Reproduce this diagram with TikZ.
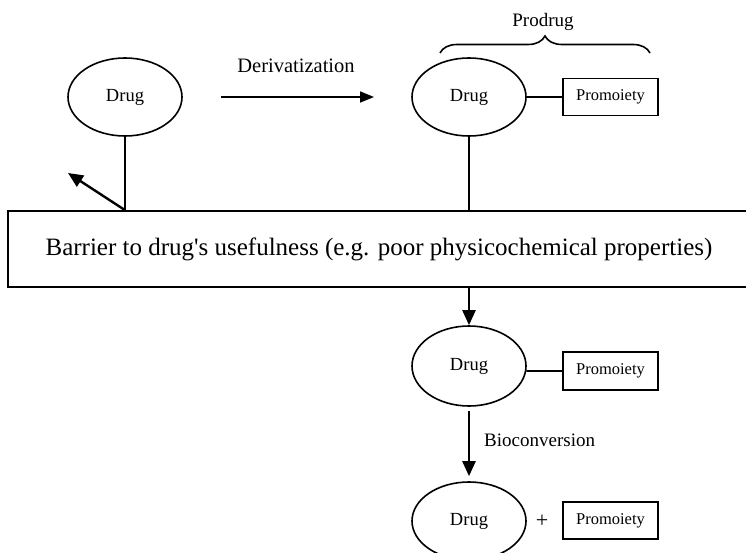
\documentclass[tikz,border=0pt]{standalone}
\usepackage{fontspec}
\setmainfont{Liberation Serif}
\usetikzlibrary{arrows.meta,shapes.geometric,decorations.pathreplacing}
\begin{document}
\begin{tikzpicture}[x=1pt,y=-1pt,
  drug/.style={draw,ellipse,line width=1.6pt,minimum width=114pt,minimum height=78pt,inner sep=0pt,font=\fontsize{18.5}{20}\selectfont},
  pbox/.style={draw,rectangle,line width=1.7pt,minimum width=95pt,minimum height=37pt,inner sep=0pt,font=\fontsize{16.5}{18}\selectfont},
  barbox/.style={draw,rectangle,line width=1.7pt,minimum width=742pt,minimum height=76pt,inner sep=0pt,font=\fontsize{25}{27}\selectfont},
  conn/.style={line width=1.7pt},
  vconn/.style={line width=2.4pt},
  bigarr/.style={line width=2.4pt,-{Triangle[length=15pt,width=13pt]}},
  thinarr/.style={line width=1.6pt,-{Triangle[length=14pt,width=11pt]}},
  lbl/.style={inner sep=0pt,font=\fontsize{19}{21}\selectfont}]
\useasboundingbox (0,0) rectangle (746,553);
% nodes
\node[drug] (d1) at (125,97) {Drug};
\node[drug] (d2) at (469,97) {Drug};
\node[pbox] (p2) at (610.5,97) {Promoiety};
\node[barbox] (bar) at (379,249) {Barrier to drug\textquotesingle s usefulness (e.g. poor physicochemical properties)};
\node[drug,minimum height=80pt] (d3) at (469,366) {Drug};
\node[pbox,minimum height=38pt] (p3) at (610.5,371) {Promoiety};
\node[drug] (d4) at (469,521) {Drug};
\node[lbl,font=\fontsize{22}{24}\selectfont] (plus) at (542,521) {+};
\node[pbox] (p4) at (610.5,520.5) {Promoiety};
\node[lbl,font=\fontsize{20.5}{22}\selectfont] (deriv) at (296,66) {Derivatization};
\node[lbl] (prod) at (543,22) {Prodrug};
\node[lbl,anchor=west] (bio) at (484,440) {Bioconversion};
% coordinates
\coordinate (tip) at (68,173);
\coordinate (ds) at (221,97);
\coordinate (de) at (374,97);
\coordinate (bl) at (440,53);
\coordinate (br) at (650,53);
% connectors
\draw[vconn] (d1.south) -- (d1.south |- bar.north) coordinate (b1);
\draw[bigarr] (b1) -- (tip);
\draw[thinarr] (ds) -- (de);
\draw[conn] (d2.east) -- (p2.west);
\draw[vconn] (d2.south) -- (d2.south |- bar.north);
\draw[bigarr] (d2.south |- bar.south) -- (d3.north);
\draw[conn] (d3.-5) -- (p3.west);
\draw[bigarr,shorten <=4pt,shorten >=5pt] (d3.south) -- (d4.north);
\draw[line width=1.6pt,decorate,decoration={brace,amplitude=17pt}] (bl) -- (br);
\end{tikzpicture}
\end{document}
